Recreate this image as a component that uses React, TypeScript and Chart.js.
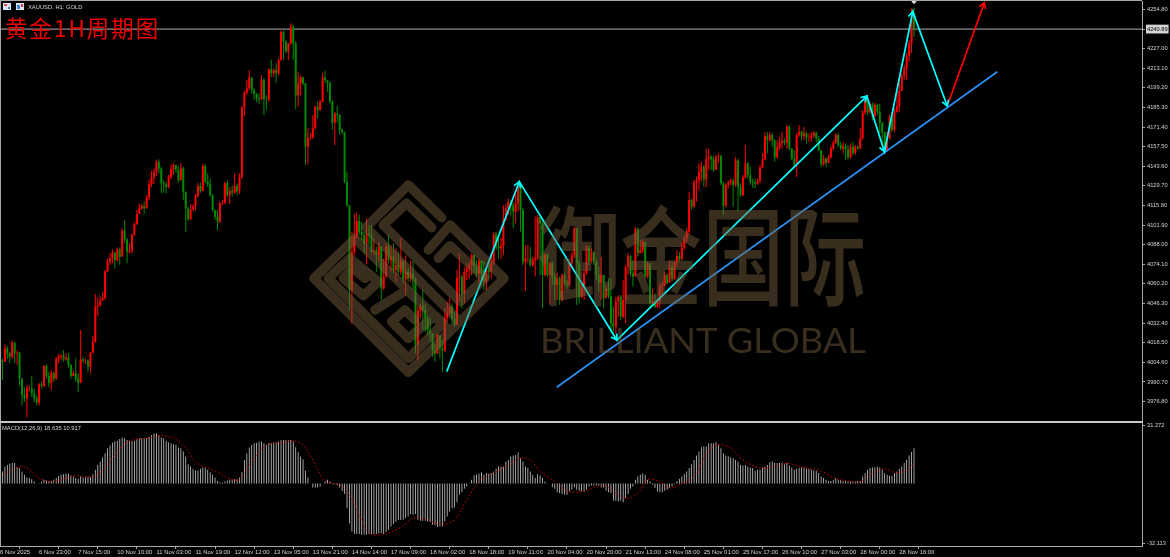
import React, { useEffect, useRef } from "react";
import { Chart, registerables } from "chart.js";

Chart.register(...registerables);

const firstOpen = 3988;
const closes = [
4006,4005,4014.5,4011,4008.6,4018.7,4011,4011.4,3993.2,3981.4,
3979,3986,3986,3982.6,3979,3976,3989,3987.8,4002,3994.9,
3990,3997,3993,4007.4,4009,4009.5,4006.7,4008,4002.7,3994.9,
3997,3993,3990,4006.7,4005.7,4005.7,4001.5,4011.4,4019.2,4044,
4045,4048.3,4050,4069,4076,4078.3,4082.4,4077,4084.7,4079.5,
4098,4091.8,4083,4084,4094.9,4102.7,4109.8,4113.7,4115.4,4113.7,
4121.6,4131,4135.7,4139.8,4146.8,4142,4131.5,4130.8,4129,4136,
4141.4,4144.5,4141.4,4133.9,4142,4125.6,4113.7,4106,4113,4115,
4122.5,4129.6,4126,4143.8,4132.7,4131,4123.2,4112.6,4107.8,4104.3,
4117.8,4117.8,4131.5,4123.2,4126,4124.9,4129.6,4126,4136,4185.4,
4195.8,4198.9,4206.7,4197.7,4194.8,4191.8,4191,4205,4191,4190.6,
4212.3,4209.5,4211.9,4209.5,4219,4239,4232,4224.9,4230.8,4242.6,
4230.8,4194,4202.4,4206.7,4202.4,4157.5,4164,4164,4170.5,4185.8,
4183.5,4189.4,4206.7,4204.8,4202.9,4189.4,4174.5,4181,4180,4169.3,
4168,4132.7,4116,4055.8,4083,4094.4,4104.8,4097,4094.8,4089,
4096,4094.8,4083,4084,4080.6,4086.6,4057,4065.3,4086.6,4077,
4079.5,4070,4073.6,4068.8,4077,4063.6,4068.8,4064,4067.7,4063.6,
4017.3,4041,4044.7,4041.7,4035.7,4027.5,4025,4013,4010.9,4024,
4014.5,4013,4036,4039.3,4044,4035.7,4031,4064.6,4065.3,4053.5,
4068.8,4071,4073.6,4080.6,4072.4,4067.7,4076.4,4067.7,4061.8,4070,
4068.8,4074.8,4095.3,4086.6,4085.4,4087,4106,4113.8,4118.5,4116,
4111.5,4117.4,4130.4,4112.6,4076,4078.4,4078.4,4073.6,4077,4078.4,
4107.4,4103,4066.5,4080.7,4066.5,4074.8,4065.4,4059.4,4064,4048.8,
4066.5,4060.6,4059.4,4074.8,4080.7,4099.6,4074.8,4051,4058.3,4067.7,
4086,4076,4083,4076,4066.5,4061,4066.5,4050,4057,4051.6,
4032.3,4030,4047.6,4051,4037,4048.8,4072,4080,4067.7,4065.4,
4099.6,4082,4084.3,4090,4065.4,4074.8,4046.4,4047.6,4044,4047.6,
4058.3,4059.4,4066.5,4061,4072.4,4063.5,4075.3,4080,4077.6,4086,
4092.5,4097.3,4119.7,4115,4132,4133.8,4139.8,4143.3,4134.3,4149,
4150.4,4148.5,4141,4150.4,4150.9,4131.5,4115.4,4130.3,4132,4133.4,
4130.3,4147.6,4129,4123,4135.7,4145.7,4137.4,4132.7,4132,4131,
4133.4,4142.8,4148.5,4165,4162,4165.8,4162,4150,4157,4160,
4161.7,4160.3,4171.7,4156.3,4149,4144.5,4165.8,4168,4165,4167,
4164,4164,4165,4167.4,4163.4,4155,4145,4149,4146,4150,
4156.3,4160.3,4165.8,4158.7,4156.3,4158,4155.6,4150,4157.5,4153,
4157.5,4156.3,4163.4,4181.6,4190.6,4182,4187.7,4179,4187,4182.3,
4174.5,4168,4155,4163.4,4178.3,4169.3,4182.3,4186.3,4197,4207.6,
4213,4221.8,4230.8,4249.7,4240.9];

const highs = [
4009,4007.4,4017,4016,4012,4020,4019,4013,4012,3993,
3987,3988.5,3988,3994.9,3986,3981,3990,3990.9,4002.7,4003.4,
3998,3999,3997.9,4008.6,4010.5,4010.5,4013.3,4011,4011.4,4003.4,
3999,4007.4,3996.8,4027.5,4008.6,4007.4,4006.7,4012,4023.2,4053,
4051,4052,4054.7,4070,4078.3,4081.9,4084.7,4083,4086,4086,
4099.6,4105.5,4092.5,4089,4096,4104,4112.6,4117.3,4116.8,4118.5,
4123.2,4133.9,4140.5,4142,4148.5,4148.5,4143.3,4133.9,4132.7,4137.4,
4145,4145.7,4143.8,4143.8,4146,4143.3,4125.6,4115,4116.8,4116.8,
4124,4132,4132,4145.2,4145.2,4138.6,4135,4124,4113,4112.6,
4118.5,4119.7,4132.7,4133.9,4129,4130,4138.6,4131.5,4138.6,4186.3,
4197,4205,4211.9,4206.7,4198.9,4195.8,4195,4208.3,4206,4194,
4213,4219.4,4213,4216.6,4220,4239.8,4239.8,4233,4231,4245,
4243.8,4232,4210.7,4208,4207,4202.9,4170.5,4167,4180,4187,
4189.4,4190.6,4210,4211.4,4205,4203.6,4190.6,4182.3,4186.3,4180.6,
4170.5,4168,4139.8,4116,4097,4110,4110.9,4109,4104,4097,
4106.7,4102,4102,4092.5,4086.6,4090,4086.6,4078,4089,4095,
4087.8,4089,4085.4,4083,4092.5,4076,4080.6,4071,4076.4,4076.4,
4065,4044,4046,4055.8,4046.4,4038,4035.7,4025,4018,4025,
4021.6,4020.4,4042.8,4047.6,4050,4046.4,4040.5,4070,4081.8,4066.5,
4072.4,4074.8,4076,4081.8,4081,4077,4078.3,4077,4076.4,4071,
4078.3,4080.6,4097,4097,4094.8,4093,4116,4116.6,4120.9,4119.7,
4118.5,4124.5,4132.7,4131.6,4113.8,4087.8,4087.8,4086.6,4079.5,4108,
4109,4109,4104.4,4082,4082,4076,4076,4067.7,4067.7,4065.4,
4067.7,4067.7,4063,4076,4083,4100.8,4099.6,4077,4061.8,4070,
4087.8,4087,4085.4,4080.7,4078.4,4072.4,4079.5,4066.5,4059.4,4064,
4064,4044,4051,4052.3,4052.3,4063,4073.6,4082,4080.7,4077,
4100.8,4099.6,4091.4,4091.8,4076,4076,4074.8,4057,4053.5,4050,
4060.6,4061.8,4068.9,4067.7,4077,4077,4077,4084.3,4083,4090,
4094.9,4099.6,4125.6,4120.9,4133.9,4136.2,4145.7,4146.8,4144.5,4156.3,
4155.6,4151.6,4150.9,4151.6,4152.8,4151.6,4132.7,4131.5,4133.9,4135,
4135,4150.4,4149,4131.5,4137.4,4158.7,4146.8,4143.3,4135,4135,
4135,4144.5,4152.8,4168,4168,4168,4167,4162.7,4162,4164.6,
4168,4163.4,4172.9,4172.9,4156.3,4155,4167,4172.9,4169,4171.7,
4168,4167,4168,4168.8,4168,4165,4155,4151.6,4150,4151.6,
4158,4162,4167,4167,4161,4161,4160,4158.7,4160,4161,
4158.7,4158.7,4170.5,4183.5,4193,4190.6,4189.4,4188.7,4188.7,4188,
4188,4175,4168,4168,4180,4178.8,4184.7,4196.5,4204.8,4209.5,
4215.4,4223.7,4233,4255.6,4256.3];

const lows = [
3987,3992,4005,4007,4004,4007,4004,4002.6,3988,3974,
3976.7,3965.6,3984,3980,3976.7,3974,3974,3986,3987,3993,
3987,3985,3990.9,3992,4003.9,4006,4005,4005.7,4001,3993,
3994.9,3990.9,3983.8,3989.7,4003.9,4003.4,3998,3996.8,4011,4018.5,
4037.4,4044,4048.8,4049,4068.9,4073.6,4074.8,4071,4076,4073.6,
4083.8,4089,4074.8,4081.9,4081.9,4094.2,4102,4110.2,4112.6,4110,
4113.7,4119.7,4129,4131,4136.7,4138.6,4124.4,4124.9,4124.4,4128,
4134.3,4137.4,4138.6,4132,4133.4,4119.7,4097.2,4105,4105.5,4112,
4112,4121.6,4124.9,4126,4131.5,4129,4122,4111.4,4105.5,4098.4,
4103.6,4116,4116.8,4122,4116.8,4122,4124,4123,4124,4134.3,
4179,4194,4197.7,4195,4190.6,4189,4187.7,4190.6,4180,4183.5,
4189.4,4206.7,4206.7,4202.9,4208,4218.5,4219,4224,4219,4230,
4219.4,4184,4186,4194,4201,4144.5,4145,4162,4163,4169.8,
4177.6,4183,4188.7,4202.4,4196.5,4188,4169.3,4158.7,4174.5,4165.8,
4166.5,4131.5,4115,4041.7,4031.7,4080.6,4092.5,4094.8,4091.3,4081.8,
4074,4087.8,4081.8,4080.6,4068.8,4076,4048.7,4055.8,4064.6,4074.8,
4068.8,4067.7,4061.8,4066.5,4066.5,4060.6,4052.3,4061.8,4061.8,4055.8,
4010.9,4006,4035.7,4027.5,4026.3,4024,4019,4008.6,4005,4010.9,
4007.4,3998,4012,4033.4,4038,4032.2,4029.8,4031,4047.6,4042.8,
4046.4,4062.9,4064,4066.5,4067.7,4065,4060.6,4060.6,4055.8,4055.8,
4064,4064,4073.6,4084,4078.3,4078,4080.6,4105,4109,4109,
4099.6,4103,4111.5,4097.3,4073.6,4055.4,4074.8,4072.4,4072.4,4065.4,
4077,4066.5,4043,4065.4,4065,4046.4,4059.4,4048.8,4048.8,4045.3,
4047.6,4058.3,4057,4058.3,4072.4,4078.4,4045.3,4046.4,4050,4048.8,
4066.5,4073.6,4074.8,4073.6,4063,4054.7,4048.8,4043,4050.7,4050,
4025,4026.4,4025,4037,4034.6,4035.8,4032.3,4066.5,4065.4,4058.3,
4067.7,4079.5,4082,4082,4064,4064,4043,4045.3,4043,4043,
4043,4051,4058.3,4060,4063.5,4061.8,4063,4072.4,4076,4077,
4084.3,4090,4095,4112.6,4114.5,4118.5,4126.8,4132.7,4129.1,4129,
4141,4141,4139.8,4141,4145.7,4130.3,4109,4114.5,4128,4130.3,
4115,4129,4111.4,4122,4122.5,4135,4135,4130.3,4128,4128,
4130.3,4132,4142,4148,4152.8,4161,4157.5,4146.8,4149,4155,
4156,4158.7,4156,4155,4148,4142,4136,4164.6,4162,4162,
4159.8,4161,4161,4163.4,4161,4154,4143,4143.8,4143,4145.7,
4149,4155,4159.4,4157.5,4155,4152.8,4148.5,4148.5,4149,4151.6,
4151.6,4155,4155.6,4162,4180,4180,4181,4176,4178.8,4180,
4167,4159.8,4153,4155,4162.7,4168,4168,4181.6,4182.3,4197,
4204.8,4204.8,4217.8,4224,4235.5];

const macdHist = [
5.5,6.5,9,10,10.6,11,11,9,8.3,6.5,
4.7,3.4,2.9,2.3,1,0,0.2,1,2,1.6,
1,1.4,2,2.9,4,4.7,5,5.2,5.2,4.3,
3.8,2.9,2.5,3.8,3.2,3.4,3.6,3.4,5,7.4,
10,11.8,14,16.3,19,20.5,22,22.6,23,24,
24.8,24.4,23.5,23,23,23,23.9,24.4,24.4,24.4,
24.4,25.3,26.2,26.8,27.1,26.2,24.8,24.4,23,22.3,
21.7,21.2,20.8,19.4,19,17.2,14.5,10.4,9.2,7.7,
7,7,7.9,8.6,8.3,7.4,6.1,4.7,3.2,1.4,
0.7,0.5,1,1.6,2,2.3,2.3,2.3,3.2,6.1,
12.7,16.3,19.4,20.8,21.7,22,22.6,22.6,21.7,20.8,
21.7,21.7,22.3,22.3,22.6,23.3,23.5,23.5,23.3,23.5,
22.6,19.6,16.9,14.5,13.1,6.8,3.2,0,-2.2,-2.2,
-2.2,-1.6,0,1,2,1,-0.4,-0.4,-1,-2.2,
-4,-5.7,-13.3,-21.4,-25.9,-27.1,-27.3,-27.3,-27.6,-27.6,
-27.6,-27.3,-27.3,-27.3,-27.3,-26.9,-26.8,-27.3,-26.2,-25,
-23.2,-21.9,-20.8,-19.7,-19.7,-19.6,-18.7,-17.8,-16.5,-16.9,
-16.5,-19.6,-20.1,-20.1,-20.1,-20.5,-20.8,-22.3,-22.6,-23.5,
-23.2,-23.2,-20.5,-17.8,-15.1,-13.3,-12.9,-10.1,-6.1,-4.7,
-2.9,-1.6,-0.2,2,4.3,4.8,5.2,6.1,4.7,5.6,
5.2,5.6,6.5,7.9,9.2,9.2,9.2,11.8,12.7,14.5,
15.1,15.4,16.7,13.6,11.8,9.2,8.3,6.5,4.7,2.9,
5,4.3,2.9,1.1,0.1,0,-2,-2.9,-4.7,-5.2,
-5.7,-6.1,-6.1,-4.3,-3.4,-2.2,-3.4,-3.9,-4.3,-4.3,
-3.4,-1.6,-1.1,-1.1,-1.1,-1.1,-2.2,-2.2,-3.9,-4.7,
-5.2,-9.3,-9.3,-9.7,-9.3,-10.1,-7.9,-5.7,-2.9,-1.6,
2,3.8,4.7,5.4,4.7,2,1.1,-0.7,-2.5,-4.3,
-4.7,-4.7,-3.9,-3.4,-2.5,-1.6,-0.4,1.4,2.5,3.8,
5,6.5,8.3,10.4,12.7,15.1,17.2,19.6,19.9,19.9,
21.7,21.7,21.7,22.3,20.8,19,16.3,15.1,14.5,14,
13.6,12.7,11.8,10,9.7,10,9.2,8.6,8.3,6.8,
7.4,7.4,8.6,9.2,10,11.5,11.8,11,11,11,
11,10.4,11,9.7,8.6,7.4,7.9,8.3,8.6,8.6,
7.9,7.9,7.4,7,6.8,5.6,3.8,2.9,2,1.4,
1.4,2,2.9,2,1.8,1.4,1.4,1.1,1.1,1.1,
1.1,1.4,1.4,3.8,5.6,7.4,8.3,8.6,8.8,9.2,
8.6,7.4,5.6,4.7,4.1,4.1,5.6,6.5,7.9,9.2,
11,12.7,15.1,17,19];

const signalBars = [0,5,9,12,16,20,25,30,35,40,44,48,52,57,61,65,71,76,80,85,89,94,98,102,109,115,120,124,128,132,135,139,143,147,151,157,164,169,175,180,186,191,196,202,207,213,217,221,227,232,239,244,248,256,261,265,270,274,278,284,289,293,299,304,311,317,322,327,331,336,340,344,352,357,362,366,371,374];
const signalValues = [3.8,7.4,9.2,7.4,2.9,1.1,2,4.1,3.6,4.7,10,17.2,22.3,24.1,24.4,25.7,24.4,19,11.8,8.3,6.1,2.5,2,10,20.8,21.7,23,20.8,12.7,2.9,0.2,-0.7,-6.1,-16.9,-26.8,-27.3,-23.7,-18.7,-19.6,-21.9,-19.6,-8.8,1.1,5.6,9.2,13.6,12.7,6.5,1.1,-3.9,-4.3,-1.6,-1.6,-7.9,-5.2,2,1.1,-2.5,-0.7,3.8,15.4,20.8,19,12.7,8.3,9.2,11,9.2,8.3,6.8,3.8,2,1.1,5.6,7.9,6.1,6.8,10.917];

const timeTickLabels = ["6 Nov 2025","6 Nov 23:00","7 Nov 15:00","10 Nov 10:00","11 Nov 03:00","11 Nov 19:00","12 Nov 12:00","13 Nov 05:00","13 Nov 21:00","14 Nov 14:00","17 Nov 09:00","18 Nov 02:00","18 Nov 18:00","19 Nov 11:00","20 Nov 04:00","20 Nov 20:00","21 Nov 13:00","24 Nov 08:00","25 Nov 01:00","25 Nov 17:00","26 Nov 10:00","27 Nov 03:00","28 Nov 00:00","28 Nov 16:00"];
const barsPerTimeTick = 16;
const priceTicks = [4254.8,4240.89,4227,4213.1,4199.2,4185.3,4171.4,4157.5,4143.6,4129.7,4115.8,4101.9,4088,4074.1,4060.2,4046.3,4032.4,4018.5,4004.6,3990.7,3976.8];
const currentPrice = 4240.89;
const macdTicks = [31.272,-32.113];

const zigBars = [182.8,212.5,252.4,354.7,361.9,373.5,387.6];
const zigPrices = [3998,4132.7,4020.4,4193.4,4153.9,4253.2,4186.4];
const upBars = [387.6,402.8];
const upPrices = [4186.4,4259.6];
const trendBars = [227.8,408.1];
const trendPrices = [3986.9,4210.7];

const X_MAX = 467.3;
const UP = "#ff0000";
const DOWN = "#008a00";
const AXIS = "#a8a8a8";
const TEXT = "#d4d4d4";
const FONT = "Liberation Sans";

const opens = closes.map((_, i) => (i === 0 ? firstOpen : closes[i - 1]));
const barColors = closes.map((c, i) => (c >= opens[i] ? UP : DOWN));
const toPts = (xs: number[], ys: number[]) => xs.map((x, i) => ({ x, y: ys[i] }));

const LOGO: number[][][] = [
  [[425,128],[325,30],[198,157],[470,430]],
  [[395,158],[320,85],[250,150],[480,380],[555,310],[450,212],[415,250]],
  [[385,225],[450,150],[612,310],[325,592],[42,310],[165,190],[450,470]],
  [[150,250],[85,310],[325,550],[430,445],[320,345],[225,405]],
  [[345,435],[315,405],[275,440],[325,490],[395,430]],
  [[150,250],[235,320],[190,362],[130,310],[160,280],[195,310]],
];

const arrowsPlugin = {
  id: "arrows",
  afterDatasetsDraw(chart: any) {
    const { ctx, scales } = chart;
    const head = (bars: number[], prices: number[], color: string) => {
      const px = bars.map((b) => scales.x.getPixelForValue(b));
      const py = prices.map((p) => scales.y.getPixelForValue(p));
      ctx.save();
      ctx.strokeStyle = color;
      ctx.lineWidth = 1.7;
      for (let i = 1; i < px.length; i++) {
        const a = Math.atan2(py[i] - py[i - 1], px[i] - px[i - 1]);
        ctx.beginPath();
        ctx.moveTo(px[i] - 6.5 * Math.cos(a - 0.55), py[i] - 6.5 * Math.sin(a - 0.55));
        ctx.lineTo(px[i], py[i]);
        ctx.lineTo(px[i] - 6.5 * Math.cos(a + 0.55), py[i] - 6.5 * Math.sin(a + 0.55));
        ctx.stroke();
      }
      ctx.restore();
    };
    head(zigBars, zigPrices, "#00ffff");
    head(upBars, upPrices, "#ff0000");
  },
};

const decorPlugin = {
  id: "decor",
  afterDraw(chart: any) {
    const { ctx } = chart;
    ctx.save();
    // watermark
    ctx.strokeStyle = "rgba(122,97,64,0.47)";
    ctx.fillStyle = "rgba(122,97,64,0.47)";
    ctx.lineWidth = 9.5;
    ctx.lineJoin = "round";
    ctx.lineCap = "round";
    ctx.beginPath();
    LOGO.forEach((path) => {
      path.forEach(([x, y], i) => {
        const px = 300 + x / 3;
        const py = 175 + y / 3;
        if (i === 0) ctx.moveTo(px, py);
        else ctx.lineTo(px, py);
      });
    });
    ctx.stroke();
    ctx.save();
    ctx.translate(538, 297);
    ctx.scale(0.76, 1);
    ctx.font = '500 108px "Noto Sans CJK SC"';
    ctx.textBaseline = "alphabetic";
    ctx.fillText("御金国际", 0, 0);
    ctx.restore();
    ctx.save();
    ctx.font = '400 35px "Lato"';
    ctx.textBaseline = "alphabetic";
    const w = ctx.measureText("BRILLIANT GLOBAL").width;
    ctx.translate(540, 353);
    ctx.scale(326 / w, 1);
    ctx.fillText("BRILLIANT GLOBAL", 0, 0);
    ctx.restore();
    // frame
    ctx.fillStyle = AXIS;
    ctx.fillRect(0, 0, 1142, 1);
    ctx.fillRect(0, 0, 1, 421);
    // header
    ctx.fillStyle = "#d8e4f0";
    ctx.fillRect(3, 3, 8, 7);
    ctx.fillStyle = "#e05050";
    ctx.fillRect(4, 4, 3, 2);
    ctx.fillStyle = "#4080d0";
    ctx.fillRect(8, 7, 2, 2);
    ctx.fillStyle = "#d8e4f0";
    ctx.fillRect(16, 3, 8, 7);
    ctx.fillStyle = "#4080d0";
    ctx.fillRect(17, 5, 3, 4);
    ctx.fillStyle = "#d04040";
    ctx.fillRect(21, 4, 2, 3);
    ctx.fillStyle = TEXT;
    ctx.font = `5.8px "${FONT}"`;
    ctx.textBaseline = "middle";
    ctx.fillText("XAUUSD, H1: GOLD", 28, 7.5);
    // title
    ctx.fillStyle = "#f00000";
    ctx.font = '22.5px "Noto Sans CJK SC"';
    ctx.letterSpacing = "2px";
    ctx.textBaseline = "alphabetic";
    ctx.fillText("黄金1H周期图", 5, 37);
    ctx.letterSpacing = "0px";
    ctx.restore();
  },
};

const macdDecorPlugin = {
  id: "macdDecor",
  afterDraw(chart: any) {
    const { ctx } = chart;
    ctx.save();
    ctx.fillStyle = "#c8c8c8";
    ctx.fillRect(0, 0, 1143, 2);
    ctx.fillStyle = AXIS;
    ctx.fillRect(0, 2, 1, 123);
    ctx.fillStyle = TEXT;
    ctx.font = `5.8px "${FONT}"`;
    ctx.textBaseline = "middle";
    ctx.fillText("MACD(12,26,9) 18.635 10.917", 2, 7.5);
    ctx.restore();
  },
};

const noPad = (s: any) => {
  s.paddingTop = 0;
  s.paddingBottom = 0;
  s.paddingLeft = 0;
  s.paddingRight = 0;
};

const yAxisBase = (ticks: number[], digits: number) => ({
  position: "right" as const,
  afterFit: (s: any) => { s.width = 28; noPad(s); },
  afterBuildTicks: (s: any) => { s.ticks = ticks.map((value) => ({ value })); },
  border: { color: AXIS },
  grid: { drawOnChartArea: false, drawTicks: true, tickLength: 3, color: AXIS },
  ticks: {
    autoSkip: false,
    maxRotation: 0,
    padding: 2,
    font: { family: FONT, size: 5.7 },
    color: TEXT,
    callback: (v: number) => v.toFixed(digits),
  },
});

export default function App() {
  const mainRef = useRef<HTMLCanvasElement>(null);
  const macdRef = useRef<HTMLCanvasElement>(null);

  useEffect(() => {
    const main = new Chart(mainRef.current!, {
      type: "bar",
      data: {
        datasets: [
          {
            type: "line", order: 0, label: "wave", data: toPts(zigBars, zigPrices),
            borderColor: "#00ffff", borderWidth: 1.7, pointRadius: 0, tension: 0,
          },
          {
            type: "line", order: 0, label: "target", data: toPts(upBars, upPrices),
            borderColor: "#ff0000", borderWidth: 1.7, pointRadius: 0, tension: 0,
          },
          {
            type: "line", order: 0, label: "trend", data: toPts(trendBars, trendPrices),
            borderColor: "#2a8ff0", borderWidth: 1.8, pointRadius: 0, tension: 0,
          },
          {
            type: "line", order: 0, label: "marker", data: [{ x: closes.length - 1, y: 4260.4 }],
            showLine: false, pointStyle: "rectRot", pointRadius: 2.6, pointBackgroundColor: "#d8d8d8",
            pointBorderWidth: 0, clip: false,
          },
          {
            label: "body", order: 1, grouped: false, barThickness: 2, inflateAmount: 0, borderWidth: 0,
            data: closes.map((c, i) => ({ x: i, y: [opens[i], c] })),
            backgroundColor: barColors,
          },
          {
            label: "wick", order: 2, grouped: false, barThickness: 1, inflateAmount: 0, borderWidth: 0,
            data: closes.map((_, i) => ({ x: i, y: [lows[i], highs[i]] })),
            backgroundColor: barColors,
          },
          {
            type: "line", order: 3, label: "price", data: [{ x: 0, y: currentPrice }, { x: X_MAX, y: currentPrice }],
            borderColor: "#8c8c8c", borderWidth: 1.3, pointRadius: 0,
          },
        ] as any,
      },
      options: {
        animation: false,
        responsive: false,
        events: [],
        layout: { autoPadding: false, padding: { top: 1, left: 0, right: 0, bottom: 0 } },
        plugins: { legend: { display: false }, tooltip: { enabled: false }, title: { display: false } },
        scales: {
          x: { type: "linear", offset: false, min: 0, max: X_MAX, display: false },
          y: {
            ...yAxisBase(priceTicks, 2),
            type: "linear", min: 3963, max: 4260.8,
            ticks: {
              ...yAxisBase(priceTicks, 2).ticks,
              color: (c: any) => (c.tick && c.tick.value === currentPrice ? "#000000" : TEXT),
              showLabelBackdrop: (c: any) => !!c.tick && c.tick.value === currentPrice,
              backdropColor: "#d4d4d4",
              backdropPadding: { x: 1, y: 1 },
            },
          },
        },
      } as any,
      plugins: [arrowsPlugin, decorPlugin],
    });

    const macd = new Chart(macdRef.current!, {
      type: "bar",
      data: {
        datasets: [
          {
            type: "line", order: 0, label: "Signal", data: toPts(signalBars, signalValues),
            borderColor: "#e00000", borderWidth: 1, borderDash: [1.5, 2.2], pointRadius: 0, tension: 0.35,
          },
          {
            label: "MACD", order: 1, barThickness: 0.8, inflateAmount: 0, borderWidth: 0,
            data: macdHist.map((y, i) => ({ x: i, y })),
            backgroundColor: "#c8c8c8",
          },
        ] as any,
      },
      options: {
        animation: false,
        responsive: false,
        events: [],
        layout: { autoPadding: false, padding: { top: 2, left: 0, right: 0, bottom: 0 } },
        plugins: { legend: { display: false }, tooltip: { enabled: false }, title: { display: false } },
        scales: {
          x: {
            type: "linear", offset: false, min: 0, max: X_MAX,
            afterFit: (s: any) => { s.height = 11; noPad(s); },
            afterBuildTicks: (s: any) => {
              s.ticks = timeTickLabels.map((_, i) => ({ value: i * barsPerTimeTick }));
            },
            border: { color: AXIS },
            grid: { drawOnChartArea: false, drawTicks: true, tickLength: 3, color: AXIS },
            ticks: {
              autoSkip: false, maxRotation: 0, align: "start", padding: 0,
              font: { family: FONT, size: 5.9 }, color: TEXT,
              callback: (v: number) => timeTickLabels[Math.round(v / barsPerTimeTick)],
            },
          },
          y: { ...yAxisBase(macdTicks, 3), type: "linear", min: -33.73, max: 32.62 },
        },
      } as any,
      plugins: [macdDecorPlugin],
    });

    return () => {
      main.destroy();
      macd.destroy();
    };
  }, []);

  return (
    <div style={{ position: "fixed", left: 0, top: 0, width: 1170, height: 557, background: "#000", overflow: "hidden" }}>
      <canvas ref={mainRef} width={1170} height={421} style={{ position: "absolute", left: 0, top: 0, display: "block" }} />
      <canvas ref={macdRef} width={1170} height={136} style={{ position: "absolute", left: 0, top: 421, display: "block" }} />
    </div>
  );
}
